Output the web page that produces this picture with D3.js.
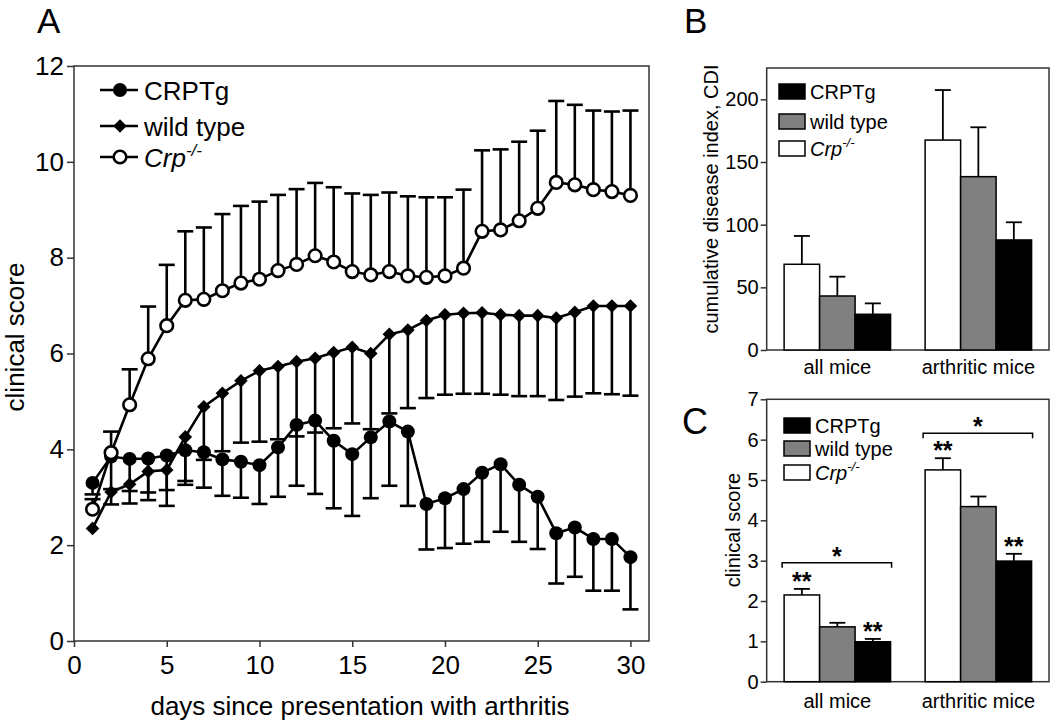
<!DOCTYPE html>
<html><head><meta charset="utf-8">
<script src="https://cdn.jsdelivr.net/npm/d3@7"></script>
<style>
body{margin:0;background:#fff}
svg{display:block}
text{font-family:"Liberation Sans",Arial,Helvetica,sans-serif;fill:#000}
</style>
</head><body>
<svg id="chart" width="1050" height="724"></svg>
<script>
// ---------- Panel A data ----------
const days = [1,2,3,4,5,6,7,8,9,10,11,12,13,14,15,16,17,18,19,20,21,22,23,24,25,26,27,28,29,30];
const crptgMean = [3.30,3.85,3.80,3.81,3.87,3.98,3.94,3.79,3.74,3.67,4.04,4.51,4.60,4.18,3.90,4.25,4.58,4.37,2.86,2.98,3.17,3.51,3.69,3.26,3.01,2.25,2.37,2.13,2.13,1.75];
const crptgSem  = [0.24,0.68,0.67,0.71,0.72,0.64,0.74,0.76,0.75,0.81,1.03,1.27,1.53,1.41,1.29,1.27,1.34,1.55,0.95,1.04,1.14,1.44,1.41,1.19,1.09,1.05,1.03,1.08,1.08,1.09];
const wtMean    = [2.35,3.11,3.27,3.54,3.57,4.26,4.89,5.17,5.43,5.64,5.73,5.83,5.90,6.02,6.13,6.00,6.40,6.49,6.69,6.81,6.84,6.85,6.81,6.79,6.79,6.74,6.86,6.99,6.99,6.99];
const wtSem     = [0.00,0.26,0.40,0.60,0.75,1.00,1.11,1.21,1.29,1.48,1.52,1.56,1.55,1.58,1.59,1.58,1.65,1.63,1.62,1.67,1.68,1.69,1.67,1.68,1.68,1.71,1.76,1.82,1.84,1.87];
const crpMean   = [2.75,3.93,4.93,5.89,6.58,7.11,7.13,7.31,7.47,7.55,7.73,7.86,8.04,7.91,7.71,7.64,7.71,7.62,7.59,7.62,7.78,8.55,8.58,8.77,9.03,9.57,9.52,9.42,9.38,9.30];
const crpSem    = [0.21,0.44,0.74,1.09,1.27,1.44,1.50,1.60,1.61,1.62,1.58,1.57,1.52,1.56,1.63,1.67,1.65,1.66,1.67,1.64,1.64,1.69,1.68,1.65,1.62,1.70,1.67,1.65,1.67,1.77];
const xTicksA = [0,5,10,15,20,25,30];
const yTicksA = [0,2,4,6,8,10,12];

// ---------- Panels B / C data ----------
const groups = ["all mice","arthritic mice"];
const barSeries = ["Crp","wild type","CRPTg"];
const cdiCrp = [68.4,167.5],   cdiCrpSem = [22.6,39.9];
const cdiWt = [43.1,138.3],    cdiWtSem = [15.4,39.4];
const cdiCrptg = [28.5,87.8],  cdiCrptgSem = [8.7,14.1];
const yTicksB = [0,50,100,150,200];
const csCrp = [2.15,5.25],     csCrpSem = [0.15,0.29];
const csWt = [1.36,4.34],      csWtSem = [0.10,0.25];
const csCrptg = [0.99,2.99],   csCrptgSem = [0.07,0.18];
const yTicksC = [0,1,2,3,4,5,6,7];
const sigStars = [
  {group:"all mice", series:"Crp", label:"**"},
  {group:"all mice", series:"CRPTg", label:"**"},
  {group:"arthritic mice", series:"Crp", label:"**"},
  {group:"arthritic mice", series:"CRPTg", label:"**"}];
const sigBrackets = [{group:"all mice", level:2.95, label:"*"},{group:"arthritic mice", level:6.16, label:"*"}];

const svg = d3.select("#chart");
const FRAME = "#333";

function styleAxis(g, fs){
  g.attr("font-size", fs).attr("font-family", '"Liberation Sans",Arial,sans-serif');
  g.select(".domain").remove();
  g.selectAll(".tick line").attr("stroke", FRAME).attr("stroke-width", 1.5);
  g.selectAll(".tick text").attr("fill", "#000");
}

// ================= Panel A =================
const xA = d3.scaleLinear().domain([0,31]).range([74,649]);
const yA = d3.scaleLinear().domain([0,12]).range([641,66]);
const gA = svg.append("g");
gA.append("g").attr("transform","translate(0,641)")
  .call(d3.axisBottom(xA).tickValues(xTicksA).tickSize(6).tickPadding(9))
  .call(g=>styleAxis(g,26));
gA.append("g").attr("transform","translate(74,0)")
  .call(d3.axisLeft(yA).tickValues(yTicksA).tickSize(7).tickPadding(3))
  .call(g=>styleAxis(g,26));
gA.append("rect").attr("x",xA(0)).attr("y",yA(12)).attr("width",xA(31)-xA(0)).attr("height",yA(0)-yA(12))
  .attr("fill","none").attr("stroke",FRAME).attr("stroke-width",1.5);

const seriesA = [
  {key:"CRPTg", mean:crptgMean, sem:crptgSem, dir:-1, marker:"filled"},
  {key:"wild type", mean:wtMean, sem:wtSem, dir:-1, marker:"diamond"},
  {key:"Crp", mean:crpMean, sem:crpSem, dir:1, marker:"open"}];
const diamond = d3.symbol(d3.symbolSquare, 92)();
function drawMarker(sel, type){
  if(type==="filled") sel.append("circle").attr("r",7).attr("fill","#000");
  else if(type==="open") sel.append("circle").attr("r",6.3).attr("fill","#fff").attr("stroke","#000").attr("stroke-width",2.6);
  else sel.append("path").attr("d",diamond).attr("transform","rotate(45)").attr("fill","#000");
}
seriesA.forEach(s=>{
  const pts = days.map((d,i)=>({d, m:s.mean[i], e:s.sem[i]}));
  const eg = gA.append("g").attr("stroke","#000").attr("stroke-width",2.6);
  pts.filter(p=>p.e>0).forEach(p=>{
    const yEnd = yA(p.m + s.dir*p.e);
    eg.append("line").attr("x1",xA(p.d)).attr("x2",xA(p.d)).attr("y1",yA(p.m)).attr("y2",yEnd);
    eg.append("line").attr("x1",xA(p.d)-8).attr("x2",xA(p.d)+8).attr("y1",yEnd).attr("y2",yEnd);
  });
  gA.append("path").datum(pts).attr("fill","none").attr("stroke","#000").attr("stroke-width",2.6)
    .attr("d", d3.line().x(p=>xA(p.d)).y(p=>yA(p.m)));
  pts.forEach(p=>{
    const mg = gA.append("g").attr("transform",`translate(${xA(p.d)},${yA(p.m)})`);
    drawMarker(mg, s.marker);
  });
});
// legend A
const legA = [{key:"CRPTg",marker:"filled",y:90},{key:"wild type",marker:"diamond",y:126},{key:"Crp",marker:"open",y:157}];
legA.forEach(l=>{
  gA.append("line").attr("x1",100).attr("x2",138).attr("y1",l.y).attr("y2",l.y).attr("stroke","#000").attr("stroke-width",2.6);
  drawMarker(gA.append("g").attr("transform",`translate(120,${l.y})`), l.marker);
  const t = gA.append("text").attr("x",144).attr("y",l.y+9.5).attr("font-size",26);
  if(l.key==="Crp"){
    t.append("tspan").attr("font-style","italic").text("Crp");
    t.append("tspan").attr("font-style","italic").attr("font-size",17).attr("dy",-11).text("-/-");
  } else t.text(l.key);
});
gA.append("text").attr("x",360).attr("y",715).attr("text-anchor","middle").attr("font-size",26).text("days since presentation with arthritis");
gA.append("text").attr("transform","translate(24,337) rotate(-90)").attr("text-anchor","middle").attr("font-size",26).text("clinical score");
gA.append("text").attr("x",37).attr("y",33).attr("font-size",35).text("A");

// ================= Bar panels =================
const fills = {"Crp":"#fff","wild type":"#808080","CRPTg":"#000"};
function barPanel(opt){
  const g = svg.append("g");
  const x0 = d3.scaleBand().domain(groups).range([766.7,1049]).paddingInner(0.245).paddingOuter(0.1235);
  const x1 = d3.scaleBand().domain(barSeries).range([0,x0.bandwidth()]).padding(0);
  const y = d3.scaleLinear().domain(opt.domain).range(opt.range);
  g.append("g").attr("transform","translate(766.7,0)")
    .call(d3.axisLeft(y).tickValues(opt.ticks).tickFormat(d3.format("d")).tickSize(6).tickPadding(2))
    .call(a=>styleAxis(a,20));
  g.append("rect").attr("x",766.7).attr("y",y(opt.domain[1])).attr("width",1049-766.7).attr("height",y(0)-y(opt.domain[1]))
    .attr("fill","none").attr("stroke",FRAME).attr("stroke-width",1.5);
  const vals = opt.values, sems = opt.sems;
  groups.forEach((grp,gi)=>{
    barSeries.forEach(s=>{
      const v = vals[s][gi], e = sems[s][gi];
      const bx = x0(grp)+x1(s), cx = bx + x1.bandwidth()/2;
      g.append("line").attr("x1",cx).attr("x2",cx).attr("y1",y(v)).attr("y2",y(v+e)).attr("stroke","#000").attr("stroke-width",1.8);
      g.append("line").attr("x1",cx-8).attr("x2",cx+8).attr("y1",y(v+e)).attr("y2",y(v+e)).attr("stroke","#000").attr("stroke-width",1.8);
      g.append("rect").attr("x",bx).attr("y",y(v)).attr("width",x1.bandwidth()).attr("height",y(0)-y(v))
        .attr("fill",fills[s]).attr("stroke","#000").attr("stroke-width",1.5);
    });
    g.append("text").attr("x",x0(grp)+x0.bandwidth()/2).attr("y",opt.labelY).attr("text-anchor","middle").attr("font-size",20).text(grp);
  });
  // legend
  opt.legend.forEach(l=>{
    g.append("rect").attr("x",opt.legX).attr("y",l.y).attr("width",26).attr("height",15)
      .attr("fill",fills[l.key]).attr("stroke","#000").attr("stroke-width",1.5);
    const t = g.append("text").attr("x",opt.legX+31).attr("y",l.y+15).attr("font-size",20);
    if(l.key==="Crp"){
      t.append("tspan").attr("font-style","italic").text("Crp");
      t.append("tspan").attr("font-style","italic").attr("font-size",13).attr("dy",-9).text("-/-");
    } else t.text(l.key);
  });
  g.append("text").attr("transform",`translate(${opt.ylabX},${opt.ylabY}) rotate(-90)`).attr("text-anchor","middle").attr("font-size",20).text(opt.ylabel);
  g.append("text").attr("x",opt.letterX).attr("y",opt.letterY).attr("font-size",opt.letterSize).text(opt.letter);
  return {g,x0,x1,y,vals,sems};
}

barPanel({
  domain:[0,225], range:[350,68], ticks:yTicksB,
  values:{"Crp":cdiCrp,"wild type":cdiWt,"CRPTg":cdiCrptg},
  sems:{"Crp":cdiCrpSem,"wild type":cdiWtSem,"CRPTg":cdiCrptgSem},
  labelY:374, legX:779,
  legend:[{key:"CRPTg",y:84},{key:"wild type",y:114},{key:"Crp",y:141}],
  ylabel:"cumulative disease index, CDI", ylabX:718, ylabY:199,
  letter:"B", letterX:684, letterY:33, letterSize:35
});

const pc = barPanel({
  domain:[0,7], range:[681.7,399.3], ticks:yTicksC,
  values:{"Crp":csCrp,"wild type":csWt,"CRPTg":csCrptg},
  sems:{"Crp":csCrpSem,"wild type":csWtSem,"CRPTg":csCrptgSem},
  labelY:708, legX:784,
  legend:[{key:"CRPTg",y:418},{key:"wild type",y:441},{key:"Crp",y:465}],
  ylabel:"clinical score", ylabX:740, ylabY:530,
  letter:"C", letterX:682, letterY:434, letterSize:36
});
// significance
sigStars.forEach(s=>{
  const gi = groups.indexOf(s.group);
  const cx = pc.x0(s.group)+pc.x1(s.series)+pc.x1.bandwidth()/2;
  const top = pc.vals[s.series][gi] + pc.sems[s.series][gi];
  pc.g.append("text").attr("x",cx).attr("y",pc.y(top)+1).attr("text-anchor","middle").attr("font-size",25).attr("font-weight","bold").text(s.label);
});
sigBrackets.forEach(b=>{
  const x1 = pc.x0(b.group)-2, x2 = pc.x0(b.group)+pc.x0.bandwidth()+1, yy = pc.y(b.level);
  pc.g.append("path").attr("d",`M${x1},${yy+5}V${yy}H${x2}V${yy+5}`).attr("fill","none").attr("stroke","#000").attr("stroke-width",1.5);
  pc.g.append("text").attr("x",(x1+x2)/2).attr("y",yy+2).attr("text-anchor","middle").attr("font-size",25).attr("font-weight","bold").text(b.label);
});
</script>
</body></html>
